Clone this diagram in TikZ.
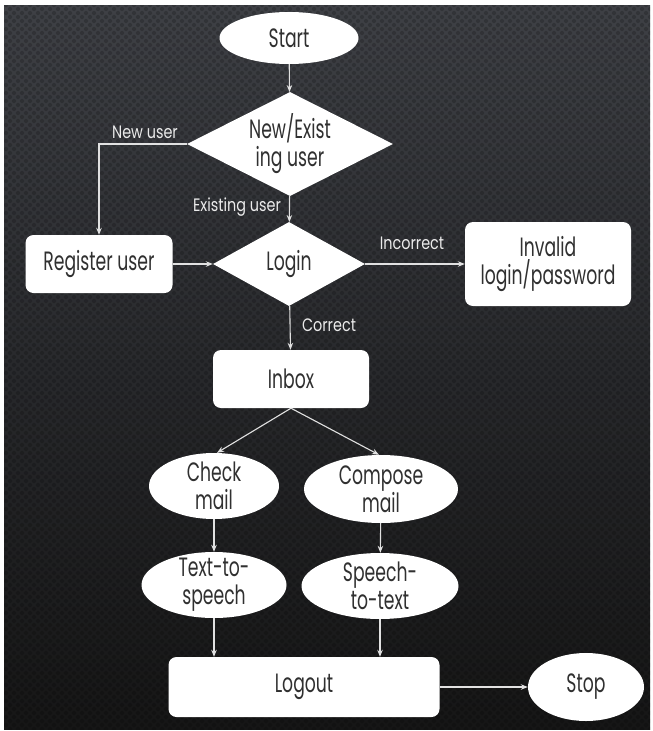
\documentclass[tikz,border=0pt]{standalone}
\usepackage{fontspec}
\setmainfont{Poppins}
\newfontfamily\nodefont[FakeStretch=0.65]{Poppins}
\newfontfamily\labfont[FakeStretch=0.8]{Poppins}
\usetikzlibrary{shapes.geometric,arrows.meta,patterns}
\pgfdeclarepatternformonly{hexdots}{\pgfpoint{-1pt}{-1pt}}{\pgfpoint{9pt}{9pt}}{\pgfpoint{8pt}{8pt}}{%
  \pgfpathcircle{\pgfpoint{2pt}{2pt}}{2.1pt}%
  \pgfpathcircle{\pgfpoint{6pt}{6pt}}{2.1pt}%
  \pgfusepath{fill}}
\definecolor{bgtop}{RGB}{62,64,69}
\definecolor{bgmid}{RGB}{40,41,44}
\definecolor{bgbot}{RGB}{22,22,22}
\definecolor{ntext}{RGB}{48,48,48}
\definecolor{labclr}{RGB}{235,235,235}
\definecolor{lineclr}{RGB}{225,225,225}
\begin{document}
\begin{tikzpicture}[x=1pt,y=-1pt,
  base/.style={fill=white, text=ntext, align=center,
    font=\nodefont\fontsize{26.5}{28}\selectfont},
  term/.style={base, ellipse, inner sep=-9pt},
  box/.style={base, rectangle, rounded corners=8pt, inner sep=0pt},
  dec/.style={base, diamond, inner sep=0pt},
  conn/.style={draw=lineclr, line width=1.1pt, -{Stealth[length=7pt,width=5.5pt]}},
  lab/.style={text=labclr, inner sep=0pt, font=\labfont\fontsize{18}{19}\selectfont}
]
\useasboundingbox (0,0) rectangle (653,731);
\fill[white] (0,0) rectangle (653,731);
\shade[top color=bgtop, bottom color=bgbot, middle color=bgmid] (4,5) rectangle (650,729);
\fill[pattern=hexdots, pattern color=black, fill opacity=0.18] (4,5) rectangle (650,729);

\node[term, minimum width=139pt, minimum height=52pt] (start) at (289,38) {Start};
\node[dec, shape aspect=2, minimum width=206pt, minimum height=104pt] (ne) at (290,144) {New/Exist\\ing user};
\node[dec, shape aspect=1.8, minimum width=152pt, minimum height=84pt] (login) at (289,264) {Login};
\node[box, minimum width=147pt, minimum height=58pt] (reg) at (99,264) {Register user};
\node[box, minimum width=166pt, minimum height=84pt] (inv) at (548,264) {Invalid\\login/password};
\node[box, minimum width=156pt, minimum height=58pt] (inbox) at (291,379) {Inbox};
\node[term, minimum width=130pt, minimum height=66pt] (check) at (214,486) {Check\\mail};
\node[term, minimum width=154pt, minimum height=68pt] (compose) at (381,489) {Compose\\mail};
\node[term, minimum width=145pt, minimum height=66pt] (tts) at (214,585) {Text-to-\\speech};
\node[term, minimum width=157pt, minimum height=66pt] (stt) at (380,586) {Speech-\\to-text};
\node[box, minimum width=271pt, minimum height=60pt] (logout) at (304,687) {Logout};
\node[term, minimum width=116pt, minimum height=68pt] (stop) at (586,687) {Stop};

\node[lab] (lnew) at (145,132) {New user};
\node[lab] (lexist) at (237,207) {Existing user};
\node[lab] (linc) at (412,243) {Incorrect};
\node[lab] (lcor) at (329,325) {Correct};

\draw[conn] (start) -- (ne);
\draw[conn] (ne.west) -| (reg.north);
\draw[conn] (ne) -- (login);
\draw[conn] (reg) -- (login);
\draw[conn] (login) -- (inv);
\draw[conn] (login) -- (inbox);
\draw[conn] (inbox.south) -- ([xshift=3pt]check.north);
\draw[conn] (inbox.south) -- ([xshift=-2pt]compose.north);
\draw[conn] (check) -- (tts);
\draw[conn] (compose) -- (stt);
\draw[conn] (tts.south) -- (tts.south |- logout.north);
\draw[conn] (stt.south) -- (stt.south |- logout.north);
\draw[conn] (logout) -- (stop);
\end{tikzpicture}
\end{document}
